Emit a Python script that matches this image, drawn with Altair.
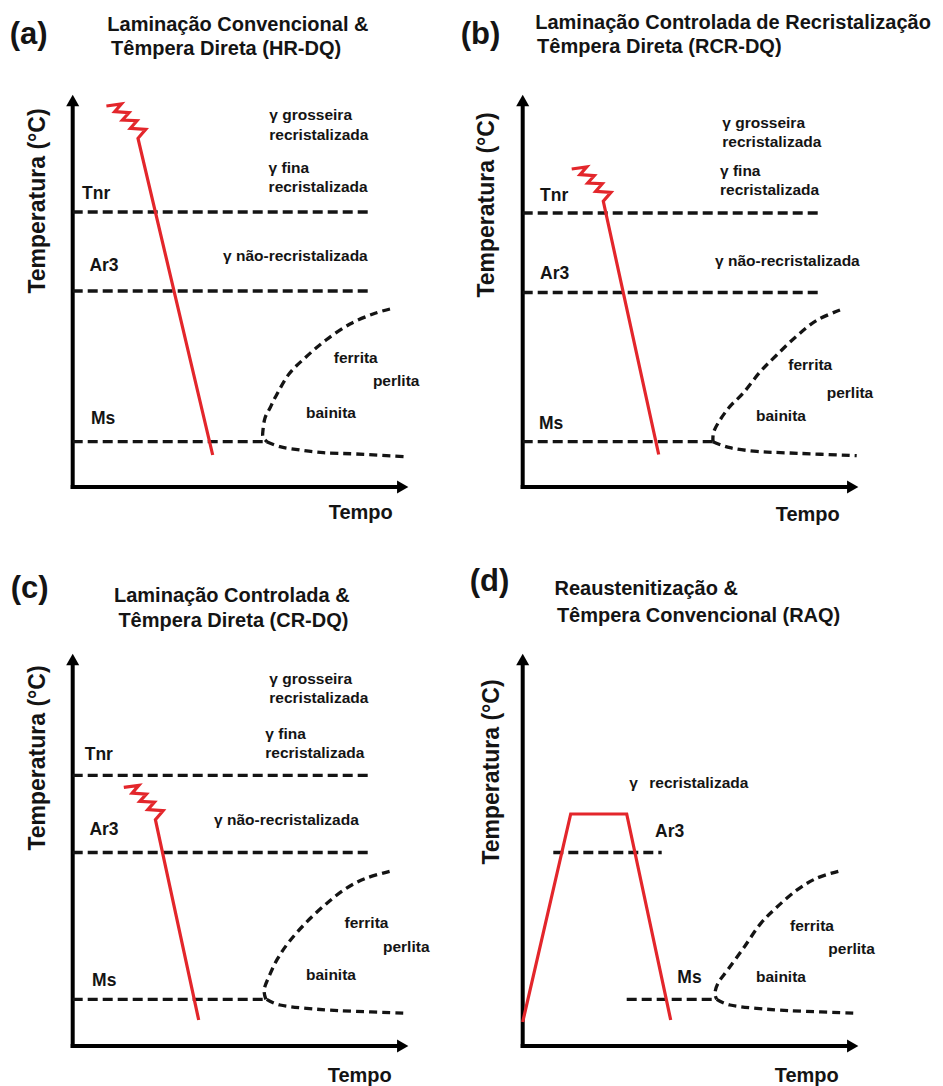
import altair as alt
import pandas as pd

# ---------------------------------------------------------------- texts
TAGS = {"a": "(a)", "b": "(b)", "c": "(c)", "d": "(d)"}
TITLE_LINE1 = {
    "a": "Laminação Convencional &",
    "b": "Laminação Controlada de Recristalização &",
    "c": "Laminação Controlada &",
    "d": "Reaustenitização &",
}
TITLE_LINE2 = {
    "a": "Têmpera Direta (HR-DQ)",
    "b": "Têmpera Direta (RCR-DQ)",
    "c": "Têmpera Direta (CR-DQ)",
    "d": "Têmpera Convencional (RAQ)",
}
Y_TITLE = "Temperatura (°C)"
X_TITLE = "Tempo"

# ------------------------------------------- values read off the schematic
# schematic units: time to the right, temperature upward, from the axes' origin
AXIS_TOP = 392.0
AXIS_RIGHT = 335.5

TAG_POS = {"a": (-63, 452), "b": (-62, 452), "c": (-62, 457), "d": (-53, 464)}
TITLE_POS = {
    "a": [(34.6, 462.3), (38.4, 438.4)],
    "b": [(12.5, 464.0), (14.4, 440.0)],
    "c": [(41.3, 450.4), (45.7, 424.7)],
    "d": [(31.8, 457.2), (34.2, 430.0)],
}
Y_TITLE_POS = {"a": (-34.8, 286), "b": (-36, 282), "c": (-34.8, 288), "d": (-31, 274)}
X_TITLE_POS = {"a": (288, -26), "b": (285, -28), "c": (287, -30), "d": (284, -30)}

# (kind, text, x, y)
LABELS = {
    "a": [
        ("region", "γ grosseira", 196.6, 371.6),
        ("region", "recristalizada", 196.6, 352.0),
        ("region", "γ fina", 195.9, 319.5),
        ("region", "recristalizada", 195.9, 300.3),
        ("region", "γ não-recristalizada", 150.3, 231.2),
        ("phase", "ferrita", 261.1, 129.4),
        ("phase", "perlita", 300.2, 106.1),
        ("phase", "bainita", 233.3, 74.0),
        ("line", "Tnr", 9.3, 293.0),
        ("line", "Ar3", 16.7, 221.0),
        ("line", "Ms", 18.3, 68.0),
    ],
    "b": [
        ("region", "γ grosseira", 199.6, 364.1),
        ("region", "recristalizada", 199.6, 345.2),
        ("region", "γ fina", 197.3, 316.0),
        ("region", "recristalizada", 197.3, 297.0),
        ("region", "γ não-recristalizada", 192.3, 225.8),
        ("phase", "ferrita", 265.6, 122.3),
        ("phase", "perlita", 304.0, 94.1),
        ("phase", "bainita", 233.3, 71.0),
        ("line", "Tnr", 17.3, 291.0),
        ("line", "Ar3", 17.3, 213.5),
        ("line", "Ms", 16.3, 63.0),
    ],
    "c": [
        ("region", "γ grosseira", 196.6, 367.2),
        ("region", "recristalizada", 196.6, 348.3),
        ("region", "γ fina", 192.6, 312.4),
        ("region", "recristalizada", 192.6, 293.5),
        ("region", "γ não-recristalizada", 141.4, 226.0),
        ("phase", "ferrita", 271.8, 123.3),
        ("phase", "perlita", 310.3, 99.3),
        ("phase", "bainita", 233.3, 70.9),
        ("line", "Tnr", 12.0, 291.0),
        ("line", "Ar3", 16.7, 215.8),
        ("line", "Ms", 19.4, 65.0),
    ],
    "d": [
        ("region", "γ", 106.6, 262.7),
        ("region", "recristalizada", 126.6, 262.7),
        ("phase", "ferrita", 267.3, 119.9),
        ("phase", "perlita", 305.6, 96.9),
        ("phase", "bainita", 233.3, 69.2),
        ("line", "Ar3", 132.3, 214.1),
        ("line", "Ms", 154.6, 68.5),
    ],
}

# dashed critical-temperature lines: (name, x_start, x_end, y)
CRIT_LINES = {
    "a": [("Tnr", 0, 297, 275.0), ("Ar3", 0, 297, 196.0), ("Ms", 0, 194, 45.3)],
    "b": [("Tnr", 0, 296, 274.0), ("Ar3", 0, 296, 194.5), ("Ms", 0, 190, 45.3)],
    "c": [("Tnr", 0, 297, 270.6), ("Ar3", 0, 297, 193.5), ("Ms", 0, 193, 46.7)],
    "d": [("Ar3", 30.6, 139, 193.5), ("Ms", 104, 192, 46.7)],
}

# transformation C-curve, upper (ferrita/perlita) and lower (bainita) branches
C_UPPER = {
    "a": [(317.3, 178), (300.3, 173), (277.3, 163), (253.3, 147), (233.3, 130), (216.3, 113),
          (203.3, 91), (197.3, 79), (192.3, 69), (190.3, 57), (190.3, 50), (194.3, 45.3)],
    "b": [(317.3, 177), (294, 166.6), (274, 151), (254, 132), (237.3, 115), (220.6, 94),
          (207.3, 80.6), (197.3, 67), (191, 55), (190.3, 45.3)],
    "c": [(316.9, 174.7), (293.5, 167.8), (273.5, 157.6), (253.4, 142.1), (233.3, 123.3),
          (216.6, 104.5), (204.9, 87.3), (196.6, 70.2), (191.5, 56.5), (193.2, 46.7)],
    "d": [(315.6, 174.7), (294, 167.8), (274, 155.8), (254, 138.7), (237.3, 121.6),
          (220.6, 97.6), (205.6, 77), (195.6, 63.4), (192.3, 53.1), (194, 46.7)],
}
C_LOWER = {
    "a": [(194, 45.3), (207.3, 40.3), (227.3, 37), (250.6, 34.3), (284, 33), (334, 30.3)],
    "b": [(190.3, 45.3), (207.3, 39.3), (234, 35.6), (267.3, 34), (334, 31.3)],
    "c": [(194, 46.7), (207.3, 41), (234, 37.7), (267.3, 35.3), (334, 32.7)],
    "d": [(194, 46.7), (207.3, 41), (234, 37.7), (267.3, 35.3), (334, 32.7)],
}

# thermo-mechanical path (red)
RED_PATH = {
    "a": [(33.7, 381), (48.7, 383), (42, 375.3), (56.3, 374.3), (49.7, 367), (64.3, 366.3),
          (57.7, 358.7), (73, 357.7), (65.3, 348.7), (140, 32)],
    "b": [(49, 318), (64, 320), (57.3, 312.3), (71.6, 311.3), (65, 304), (79.6, 303.3),
          (73, 295.7), (88.3, 294.7), (80.6, 285.7), (136, 32.5)],
    "c": [(51.1, 258.6), (66.1, 260.6), (59.4, 252.9), (73.7, 251.9), (67.1, 244.6),
          (81.7, 243.9), (75.1, 236.3), (90.4, 235.3), (82.7, 226.3), (126, 26)],
    "d": [(0, 24), (48, 232), (104, 232), (148, 26)],
}

# ----------------------------------------------------------- layout/style
PANEL_W = {"a": 470, "b": 473, "c": 470, "d": 473}
PANEL_H = {"a": 540, "b": 540, "c": 546, "d": 546}
ORIGIN = {"a": (72.7, 487), "b": (52.7, 487), "c": (72.7, 506), "d": (52.7, 506)}

FONT = "Liberation Sans"
INK = "#141414"
RED = "#e3262b"
FONT_SIZES = {"region": 15.5, "phase": 15.5, "line": 17.5}


def make_panel(k):
    ox, oy = ORIGIN[k]
    W, H = PANEL_W[k], PANEL_H[k]
    xsc = alt.Scale(domain=[-ox, W - ox], nice=False, zero=False)
    ysc = alt.Scale(domain=[oy - H, oy], nice=False, zero=False)

    def X(f="x"):
        return alt.X(f"{f}:Q", scale=xsc, axis=None)

    def Y(f="y"):
        return alt.Y(f"{f}:Q", scale=ysc, axis=None)

    layers = []

    # axes with arrows
    axes_df = pd.DataFrame({
        "x": [0, -2], "y": [-2, 0],
        "x2": [0, AXIS_RIGHT - 8], "y2": [AXIS_TOP - 8, 0],
    })
    layers.append(
        alt.Chart(axes_df).mark_rule(color="black", strokeWidth=4).encode(
            x=X(), y=Y(), x2="x2:Q", y2="y2:Q")
    )
    arrow_df = pd.DataFrame({
        "x": [0, AXIS_RIGHT - 5.5], "y": [AXIS_TOP - 5.5, 0],
        "shape": ["triangle-up", "triangle-right"],
    })
    layers.append(
        alt.Chart(arrow_df).mark_point(filled=True, color="black", opacity=1).encode(
            x=X(), y=Y(), shape=alt.Shape("shape:N", scale=None), size=alt.value(170))
    )

    # dashed critical lines
    rows = []
    for name, x0, x1, yv in CRIT_LINES[k]:
        rows.append({"seg": name, "order": 0, "x": x0, "y": yv})
        rows.append({"seg": name, "order": 1, "x": x1, "y": yv})
    layers.append(
        alt.Chart(pd.DataFrame(rows)).mark_line(
            color=INK, strokeWidth=3.3, strokeDash=[10, 5]).encode(
            x=X(), y=Y(), detail="seg:N", order="order:Q")
    )

    # C-curve
    rows = []
    for seg, pts in (("up", C_UPPER[k]), ("low", C_LOWER[k])):
        for i, (xv, yv) in enumerate(pts):
            rows.append({"seg": seg, "order": i, "x": xv, "y": yv})
    layers.append(
        alt.Chart(pd.DataFrame(rows)).mark_line(
            color=INK, strokeWidth=3.3, strokeDash=[8, 5], interpolate="cardinal").encode(
            x=X(), y=Y(), detail="seg:N", order="order:Q")
    )

    # red process path
    red_df = pd.DataFrame([{"order": i, "x": xv, "y": yv} for i, (xv, yv) in enumerate(RED_PATH[k])])
    layers.append(
        alt.Chart(red_df).mark_line(color=RED, strokeWidth=3.2, strokeJoin="miter").encode(
            x=X(), y=Y(), order="order:Q")
    )

    # labels inside plot
    lab_df = pd.DataFrame(LABELS[k], columns=["kind", "text", "x", "y"])
    for kind, fs in FONT_SIZES.items():
        sub = lab_df[lab_df["kind"] == kind]
        if len(sub) == 0:
            continue
        layers.append(
            alt.Chart(sub).mark_text(
                align="left", baseline="middle", font=FONT, fontWeight="bold",
                fontSize=fs, color=INK).encode(x=X(), y=Y(), text="text:N")
        )

    # panel tag and title
    tag_df = pd.DataFrame([{"text": TAGS[k], "x": TAG_POS[k][0], "y": TAG_POS[k][1]}])
    layers.append(
        alt.Chart(tag_df).mark_text(
            align="left", baseline="middle", font=FONT, fontWeight="bold",
            fontSize=31, color=INK).encode(x=X(), y=Y(), text="text:N")
    )
    (tx1, ty1), (tx2, ty2) = TITLE_POS[k]
    title_df = pd.DataFrame([
        {"text": TITLE_LINE1[k], "x": tx1, "y": ty1},
        {"text": TITLE_LINE2[k], "x": tx2, "y": ty2},
    ])
    limit = W - (ox + min(tx1, tx2)) + 4
    layers.append(
        alt.Chart(title_df).mark_text(
            align="left", baseline="middle", font=FONT, fontWeight="bold",
            fontSize=20, color=INK, limit=limit, ellipsis="\u200b").encode(
            x=X(), y=Y(), text="text:N")
    )

    # axis titles
    yt_df = pd.DataFrame([{"text": Y_TITLE, "x": Y_TITLE_POS[k][0], "y": Y_TITLE_POS[k][1]}])
    layers.append(
        alt.Chart(yt_df).mark_text(
            align="center", baseline="middle", angle=270, font=FONT, fontWeight="bold",
            fontSize=23, color=INK).encode(x=X(), y=Y(), text="text:N")
    )
    xt_df = pd.DataFrame([{"text": X_TITLE, "x": X_TITLE_POS[k][0], "y": X_TITLE_POS[k][1]}])
    layers.append(
        alt.Chart(xt_df).mark_text(
            align="center", baseline="middle", font=FONT, fontWeight="bold",
            fontSize=20, color=INK).encode(x=X(), y=Y(), text="text:N")
    )

    return alt.layer(*layers).properties(width=W, height=H)


chart = (
    alt.concat(make_panel("a"), make_panel("b"), make_panel("c"), make_panel("d"),
               columns=2, spacing=0, bounds="flush")
    .properties(padding=0, background="white")
    .configure_view(stroke=None)
)

chart.save("out.html", embed_options={"renderer": "svg", "actions": False})
